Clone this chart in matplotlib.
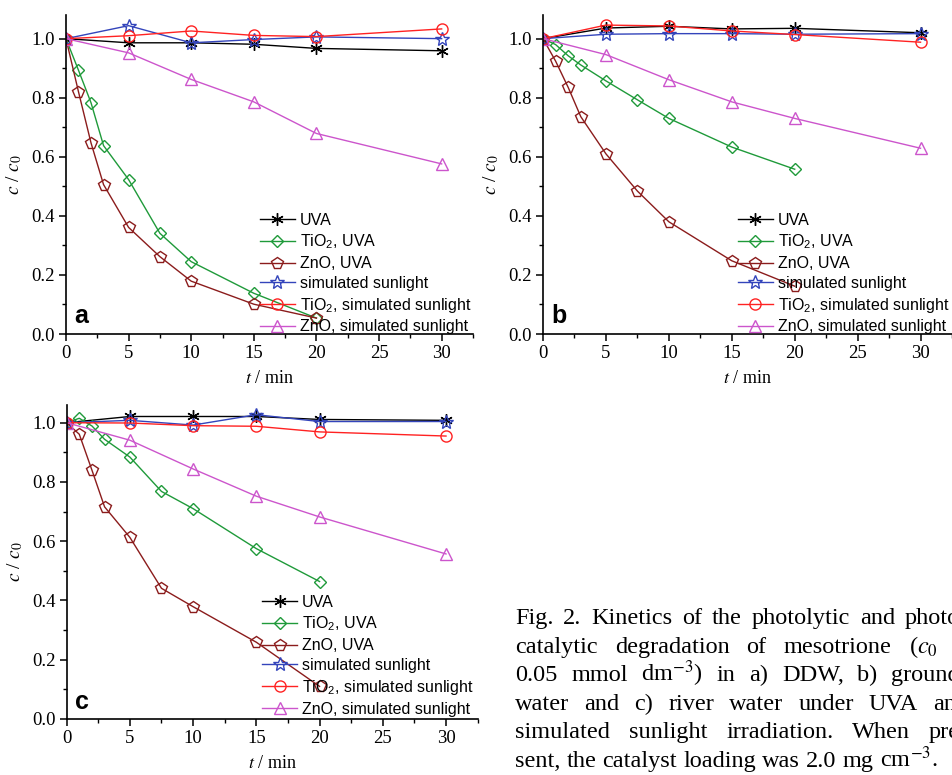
"""Kinetics of mesotrione degradation, three water matrices (Fig. 2 remake)."""

import matplotlib

matplotlib.use("Agg")
import matplotlib.pyplot as plt
from matplotlib.ticker import FormatStrFormatter, MultipleLocator

plt.rcParams["font.family"] = ["Liberation Sans", "DejaVu Sans"]
plt.rcParams["mathtext.fontset"] = "custom"
plt.rcParams["mathtext.rm"] = "Liberation Sans"
plt.rcParams["mathtext.it"] = "Liberation Sans:italic"

# time axes (min)
T_FINE = [0, 1, 2, 3, 5, 7.5, 10, 15, 20]
T_COARSE = [0, 5, 10, 15, 20, 30]

LABELS = [
    "UVA",
    "TiO$_2$, UVA",
    "ZnO, UVA",
    "simulated sunlight",
    "TiO$_2$, simulated sunlight",
    "ZnO, simulated sunlight",
]

# a) DDW
a_uva = [1.0, 0.986, 0.986, 0.981, 0.967, 0.959]
a_tio2_uva = [1.0, 0.893, 0.783, 0.638, 0.523, 0.341, 0.245, 0.138, 0.054]
a_zno_uva = [1.0, 0.820, 0.647, 0.506, 0.361, 0.262, 0.179, 0.101, 0.054]
a_sun = [1.0, 1.044, 0.986, 0.997, 1.006, 1.0]
a_tio2_sun = [1.0, 1.010, 1.026, 1.011, 1.007, 1.033]
a_zno_sun = [1.0, 0.952, 0.862, 0.786, 0.679, 0.576]

# b) groundwater
b_uva = [1.0, 1.036, 1.042, 1.033, 1.035, 1.020]
b_tio2_uva = [1.0, 0.980, 0.942, 0.911, 0.857, 0.793, 0.730, 0.633, 0.558]
b_zno_uva = [1.0, 0.924, 0.835, 0.736, 0.610, 0.484, 0.380, 0.248, 0.162]
b_sun = [1.0, 1.015, 1.017, 1.017, 1.015, 1.017]
b_tio2_sun = [1.0, 1.046, 1.043, 1.026, 1.014, 0.988]
b_zno_sun = [1.0, 0.946, 0.861, 0.786, 0.730, 0.629]

# c) river water
c_uva = [1.0, 1.021, 1.021, 1.021, 1.011, 1.008]
c_tio2_uva = [1.0, 1.015, 0.989, 0.944, 0.884, 0.768, 0.710, 0.575, 0.464]
c_zno_uva = [1.0, 0.961, 0.840, 0.716, 0.613, 0.441, 0.379, 0.259, 0.110]
c_sun = [1.0, 1.008, 0.992, 1.027, 1.004, 1.004]
c_tio2_sun = [1.0, 0.999, 0.990, 0.988, 0.969, 0.955]
c_zno_sun = [1.0, 0.941, 0.844, 0.752, 0.682, 0.557]

CAPTION = [
    "Fig. 2. Kinetics of the photolytic and photo-",
    "catalytic degradation of mesotrione ($c_0$ =",
    "0.05 mmol dm$^{-3}$) in a) DDW, b) ground-",
    "water and c) river water under UVA and",
    "simulated sunlight irradiation. When pre-",
    "sent, the catalyst loading was 2.0 mg cm$^{-3}$.",
]

STYLES = [
    dict(color="black", marker=(6, 2, 0), ms=9),
    dict(color="#1f9a3a", marker="D", ms=6.5),
    dict(color="#8b1c1c", marker="p", ms=8.5),
    dict(color="#3344bb", marker="*", ms=10),
    dict(color="#ff2222", marker="o", ms=8),
    dict(color="#cc55cc", marker="^", ms=9),
]

SERIF = ["Liberation Serif", "DejaVu Serif"]


def _panel(fig, rect, series, letter, ytop, legend_top):
    ax = fig.add_axes(rect)
    times = [T_COARSE, T_FINE, T_FINE, T_COARSE, T_COARSE, T_COARSE]
    for t, y, label, st in zip(times, series, LABELS, STYLES):
        ax.plot(t, y, color=st["color"], marker=st["marker"], ms=st["ms"],
                mfc="none", mec=st["color"], mew=1.0, lw=1.0, label=label)
    ax.set_xlim(0, 32.5)
    ax.set_ylim(0, ytop)
    ax.xaxis.set_major_locator(MultipleLocator(5))
    ax.xaxis.set_minor_locator(MultipleLocator(2.5))
    ax.yaxis.set_major_locator(MultipleLocator(0.2))
    ax.yaxis.set_minor_locator(MultipleLocator(0.1))
    ax.yaxis.set_major_formatter(FormatStrFormatter("%.1f"))
    for side in ("top", "right"):
        ax.spines[side].set_visible(False)
    for side in ("left", "bottom"):
        ax.spines[side].set_linewidth(1.2)
    ax.tick_params(which="major", direction="out", length=5, width=1.1, labelsize=13.5, pad=3)
    ax.tick_params(which="minor", direction="out", length=3, width=1.0)
    for lab in ax.get_xticklabels() + ax.get_yticklabels():
        lab.set_family(SERIF)
    ax.set_xlabel("$t$ / min", family=SERIF, fontsize=13, math_fontfamily="stix", labelpad=6)
    ax.set_ylabel("$c$ / $c_0$", family=SERIF, fontsize=14, math_fontfamily="stix", labelpad=5)
    ax.text(0.02, 0.055, letter, transform=ax.transAxes, fontsize=18, fontweight="bold",
            ha="left", va="center")
    ax.legend(loc="upper left", bbox_to_anchor=(0.476, legend_top), frameon=False,
              fontsize=11.5, handlelength=2.2, handletextpad=0.3, labelspacing=0.3,
              borderpad=0, borderaxespad=0)
    return ax


def _caption(fig, x0, x1, y0, dy, size):
    renderer = fig.canvas.get_renderer()
    W, H = fig.bbox.width, fig.bbox.height
    probe = fig.text(0, 0, "n n", family=SERIF, fontsize=size)
    probe_n = fig.text(0, 0, "nn", family=SERIF, fontsize=size)
    space = probe.get_window_extent(renderer).width - probe_n.get_window_extent(renderer).width
    probe.remove()
    probe_n.remove()
    for i, line in enumerate(CAPTION):
        words = line.split(" ")
        texts = [fig.text(0, 0, w, family=SERIF, fontsize=size, math_fontfamily="stix",
                          ha="left", va="baseline") for w in words]
        widths = [t.get_window_extent(renderer).width for t in texts]
        if i == len(CAPTION) - 1:
            g = space
        else:
            g = max((x1 - x0 - sum(widths)) / (len(words) - 1), space)
        x = x0
        y = y0 + i * dy
        for t, w in zip(texts, widths):
            t.set_position((x / W, 1 - y / H))
            x += w + g


def main():
    fig = plt.figure(figsize=(9.52, 7.75), dpi=100)
    _panel(fig, [0.0693, 0.569, 0.4275, 0.4116],
           [a_uva, a_tio2_uva, a_zno_uva, a_sun, a_tio2_sun, a_zno_sun], "a", 1.08, 0.38)
    _panel(fig, [0.5704, 0.569, 0.4296, 0.4116],
           [b_uva, b_tio2_uva, b_zno_uva, b_sun, b_tio2_sun, b_zno_sun], "b", 1.08, 0.38)
    _panel(fig, [0.0700, 0.0723, 0.4317, 0.4052],
           [c_uva, c_tio2_uva, c_zno_uva, c_sun, c_tio2_sun, c_zno_sun], "c", 1.06, 0.395)
    _caption(fig, 515, 968, 624, 28.6, 17.5)
    fig.savefig("out.png", dpi=100)
    plt.close(fig)


if __name__ == "__main__":
    main()
